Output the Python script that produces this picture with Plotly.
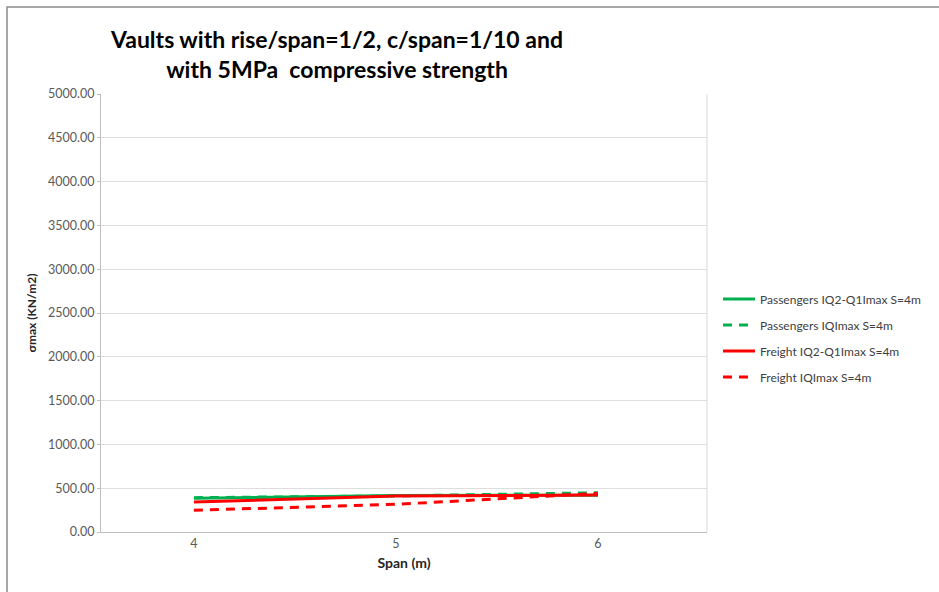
import plotly.graph_objects as go

spans = [4, 5, 6]
pass_q2q1 = [385, 418, 420]
pass_qmax = [392, 412, 448]
freight_q2q1 = [342, 411, 422]
freight_qmax = [248, 316, 442]
y_ticks = [0, 500, 1000, 1500, 2000, 2500, 3000, 3500, 4000, 4500, 5000]
names = ["Passengers IQ2-Q1Imax S=4m", "Passengers IQImax S=4m",
         "Freight IQ2-Q1Imax S=4m", "Freight IQImax S=4m"]

GREEN = "#00B050"
RED = "#FF0000"
FONT = "Lato, 'Open Sans', sans-serif"

W, H = 939, 592
L, R, T, B = 101, 232, 94, 60
PW, PH = W - L - R, H - T - B

fig = go.Figure()
for i, (vals, name, color, dash) in enumerate([
    (pass_q2q1, names[0], GREEN, "solid"),
    (pass_qmax, names[1], GREEN, "9px,7px"),
    (freight_q2q1, names[2], RED, "solid"),
    (freight_qmax, names[3], RED, "9px,7px"),
]):
    fig.add_trace(go.Scatter(x=spans, y=vals, name=name, mode="lines", legendgroup=f"g{i}",
                             line=dict(color=color, width=3, dash=dash)))

fig.update_layout(
    width=W, height=H,
    margin=dict(l=L, r=R, t=T, b=B),
    paper_bgcolor="white", plot_bgcolor="white",
    font=dict(family=FONT, size=12.5, color="#595959"),
    title=dict(text="<b>Vaults with rise/span=1/2, c/span=1/10 and<br>with 5MPa  compressive strength</b>",
               x=337 / W, xanchor="center", y=1 - 48 / H, yanchor="middle",
               font=dict(family=FONT, size=23, color="black")),
    legend=dict(x=(718 - L) / PW, y=(H - B - 338) / PH, xanchor="left", yanchor="middle",
                font=dict(family=FONT, size=12, color="#404040"),
                bgcolor="rgba(0,0,0,0)", tracegroupgap=7, itemwidth=32),
    showlegend=True,
)
fig.update_xaxes(range=[3.54, 6.54], tickvals=spans, ticktext=[str(s) for s in spans],
                 showgrid=False, zeroline=False, showline=True, linecolor="#BFBFBF",
                 ticks="", ticklen=0,
                 title=dict(text="<b>Span (m)</b>", font=dict(size=14, color="#262626"), standoff=8))
fig.update_yaxes(range=[0, 5000], tickvals=y_ticks, ticktext=[f"{v:.2f}" for v in y_ticks],
                 showgrid=True, gridcolor="#DEDEDE", zeroline=False, showline=True,
                 linecolor="#BFBFBF", ticks="outside", ticklen=3, tickcolor="#BFBFBF",
                 title=dict(text="<b>σmax (KN/m2)</b>", font=dict(size=12, color="#262626"), standoff=8))

# plot-area right border
fig.add_shape(type="line", xref="paper", yref="paper", x0=1, x1=1, y0=0, y1=1,
              line=dict(color="#D9D9D9", width=1))
# chart outer border (left and top edges visible)
fig.add_shape(type="rect", xref="paper", yref="paper",
              x0=(7 - L) / PW, x1=(W + 10 - L) / PW,
              y0=(PH + T - H - 10) / PH, y1=(PH + T - 7) / PH,
              line=dict(color="#8C8C8C", width=1.5), layer="below")

fig.write_html("out.html", config={"displayModeBar": False},
               post_script="document.body.style.margin='0';document.body.style.overflow='hidden';")
